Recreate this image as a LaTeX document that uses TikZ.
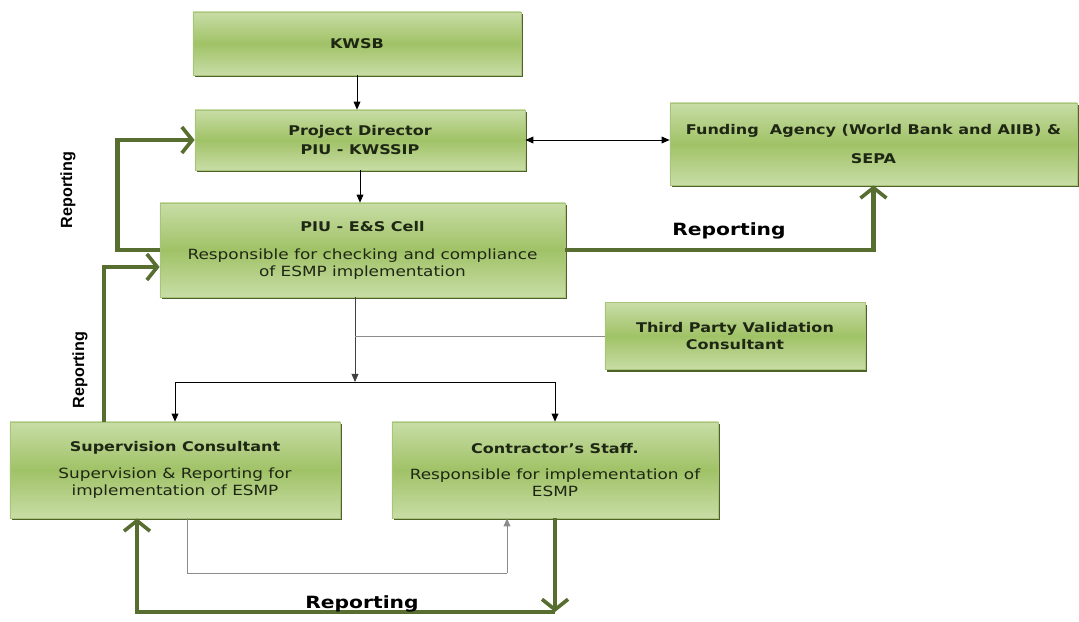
\documentclass[tikz,border=0pt]{standalone}
\usepackage{xcolor}
\usepackage{fontspec}
\setmainfont{DejaVu Sans}[FakeStretch=1.2]
\newfontfamily\narrowfont{Liberation Sans}
\usepackage{tikz}
\usetikzlibrary{arrows.meta,positioning,calc,shadows}
\definecolor{esmplight}{HTML}{C8DDA6}
\definecolor{esmpmid}{HTML}{A0C266}
\definecolor{esmpedge}{HTML}{A7C47A}
\definecolor{esmpdark}{HTML}{4F6228}
\definecolor{esmpolive}{HTML}{586D30}
\definecolor{esmptext}{HTML}{1E2614}
\definecolor{esmpgray}{HTML}{8C8C8C}
\tikzset{
  unit/.style={rectangle, draw=esmpedge, line width=0.5pt, top color=esmplight, bottom color=esmplight, middle color=esmpmid, align=center, text=esmptext, font=\fontsize{10}{12}\selectfont, inner sep=2pt, drop shadow={shadow xshift=1.2pt, shadow yshift=-1.6pt, fill=esmpdark, opacity=1}},
  title/.style={font=\bfseries\fontsize{9.5}{11.5}\selectfont},
  flow/.style={draw=black, line width=0.6pt, -{Triangle[length=2mm,width=1.7mm]}},
  twoway/.style={draw=black, line width=0.6pt, {Triangle[length=2mm,width=1.7mm]}-{Triangle[length=2mm,width=1.7mm]}},
  feed/.style={draw=esmpgray, line width=0.7pt},
  report/.style={draw=esmpolive, line width=3pt, -{Straight Barb[length=2.6mm,width=6.5mm,line width=2.6pt]}},
  replabel/.style={font=\bfseries\fontsize{12}{14}\selectfont, text=black},
  repside/.style={font=\narrowfont\bfseries\fontsize{11.5}{13}\selectfont, text=black, rotate=90},
}
\newcommand{\hd}[1]{{\bfseries\fontsize{9.5}{11.5}\selectfont #1}}

\begin{document}
\begin{tikzpicture}[x=0.025cm, y=-0.025cm]
  \useasboundingbox (0,0) rectangle (1079,622);

  \node[unit, minimum width=8.2cm, minimum height=1.575cm] (kwsb) at (357,43.5) {\hd{KWSB}};
  \node[unit, minimum width=8.25cm, minimum height=1.5cm] (pd) at (360,140) {\hd{Project Director}\\[2pt] \hd{PIU - KWSSIP}};
  \node[unit, minimum width=10.175cm, minimum height=2.05cm] (fund) at (873.5,144) {\hd{Funding\ \ Agency (World Bank and AIIB) \&}\\[9pt] \hd{SEPA}};
  \node[unit, minimum width=10.125cm, minimum height=2.35cm] (piu) at (362.5,250) {\hd{PIU - E\&S Cell}\\[8pt] Responsible for checking and compliance\\ of ESMP implementation};
  \node[unit, minimum width=6.5cm, minimum height=1.675cm] (tpv) at (735,336) {\hd{Third Party Validation}\\ \hd{Consultant}};
  \node[unit, minimum width=8.25cm, minimum height=2.4cm] (sc) at (175,470) {\hd{Supervision Consultant}\\[7pt] Supervision \& Reporting for\\ implementation of ESMP};
  \node[unit, minimum width=8.15cm, minimum height=2.4cm] (cs) at (555,470) {\hd{Contractor's Staff.}\\[7pt] Responsible for implementation of\\ ESMP};

  \coordinate (tap) at (355,336);
  \coordinate (split) at (355,382);
  \coordinate (loopl) at (187,573);
  \coordinate (loopr) at (507,573);
  \coordinate (scup) at (104,267);
  \coordinate (botr) at (cs.south |- 0,612);
  \coordinate (botl) at (137,612);

  % hierarchy
  \draw[flow] (kwsb.south) -- (kwsb.south |- pd.north);
  \draw[twoway] (pd.east) -- (pd.east -| fund.west);
  \draw[flow] (pd.south) -- (pd.south |- piu.north);
  \draw[flow, draw=darkgray] (piu.south -| split) -- (split);
  \draw[feed] (tap) -- (tap -| tpv.west);
  \draw[flow] (split) -| (sc.north);
  \draw[flow] (split) -| (cs.north);
  \draw[feed] (sc.south -| loopl) -- (loopl) -- (loopr);
  \draw[flow, draw=esmpgray] (loopr) -- (loopr |- cs.south);

  % reporting lines
  \draw[report] (piu.west) -- ++(-42,0) |- (pd.west);
  \draw[report] (piu.east) -| (fund.south);
  \draw[report] (sc.north -| scup) -- (scup) -- (scup -| piu.west);
  \draw[report] (cs.south) -- (botr);
  \draw[report] (botr) -- (botl) -- (botl |- sc.south);

  \node[repside] (rep1) at (68,190) {Reporting};
  \node[replabel] (rep2) at (729,231) {Reporting};
  \node[repside] (rep3) at (80,370) {Reporting};
  \node[replabel] (rep4) at (362,604) {Reporting};
\end{tikzpicture}
\end{document}
